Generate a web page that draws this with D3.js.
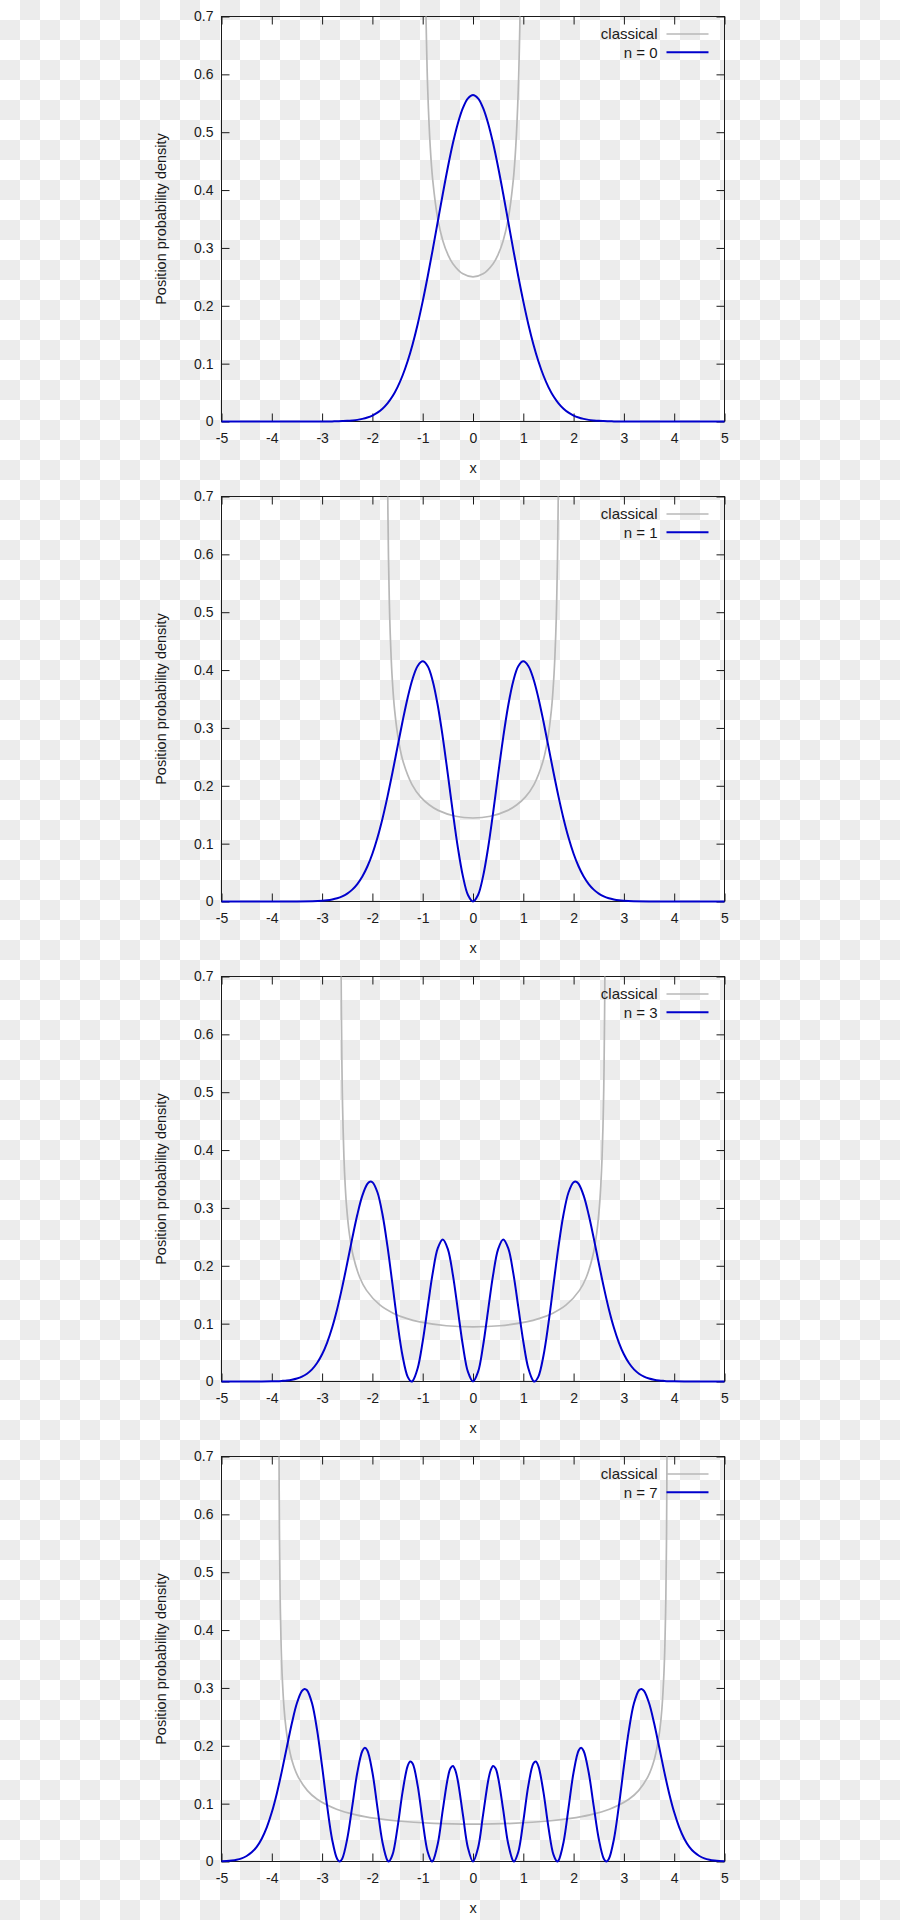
<!DOCTYPE html>
<html><head><meta charset="utf-8">
<script src="https://cdn.jsdelivr.net/npm/d3@7"></script>
<style>
body{margin:0;background:#fff;}
svg{display:block;}
text{font-family:"Liberation Sans",Arial,sans-serif;}
</style>
</head><body>
<svg id="chart" width="900" height="1920"></svg>
<script>
// ---------- tick labels ----------
const xTicks = [-5,-4,-3,-2,-1,0,1,2,3,4,5];
const xTickLabels = ["-5","-4","-3","-2","-1","0","1","2","3","4","5"];
const yTicks = [0,0.1,0.2,0.3,0.4,0.5,0.6,0.7];
const yTickLabels = ["0","0.1","0.2","0.3","0.4","0.5","0.6","0.7"];
const xTitle = "x";
const yTitle = "Position probability density";
const classicalLabel = "classical";
const legendLabels = ["n = 0","n = 1","n = 3","n = 7"];

// ---------- quantum densities ----------
const qx01 = [-5,-4,-3.5,-3,-2.9,-2.8,-2.7,-2.6,-2.5,-2.4,-2.3,-2.2,-2.1,-2,-1.9,-1.8,-1.7,-1.6,-1.5,-1.4,-1.3,-1.2,-1.1,-1,-0.9,-0.8,-0.7,-0.6,-0.5,-0.4,-0.3,-0.2,-0.1,0,0.1,0.2,0.3,0.4,0.5,0.6,0.7,0.8,0.9,1,1.1,1.2,1.3,1.4,1.5,1.6,1.7,1.8,1.9,2,2.1,2.2,2.3,2.4,2.5,2.6,2.7,2.8,2.9,3,3.5,4,5];
const q0 = [0,0,0,0.0001,0.0001,0.0002,0.0004,0.0007,0.0011,0.0018,0.0028,0.0045,0.0069,0.0103,0.0153,0.0221,0.0314,0.0436,0.0595,0.0795,0.1041,0.1337,0.1682,0.2076,0.2510,0.2975,0.3456,0.3936,0.4394,0.4808,0.5156,0.5421,0.5586,0.5642,0.5586,0.5421,0.5156,0.4808,0.4394,0.3936,0.3456,0.2975,0.2510,0.2076,0.1682,0.1337,0.1041,0.0795,0.0595,0.0436,0.0314,0.0221,0.0153,0.0103,0.0069,0.0045,0.0028,0.0018,0.0011,0.0007,0.0004,0.0002,0.0001,0.0001,0,0,0];
const q1 = [0,0,0.0001,0.0013,0.0021,0.0035,0.0056,0.0088,0.0136,0.0205,0.0301,0.0432,0.0605,0.0826,0.1102,0.1432,0.1813,0.2233,0.2676,0.3115,0.3519,0.3850,0.4071,0.4151,0.4066,0.3808,0.3387,0.2834,0.2197,0.1538,0.0928,0.0434,0.0112,0,0.0112,0.0434,0.0928,0.1538,0.2197,0.2834,0.3387,0.3808,0.4066,0.4151,0.4071,0.3850,0.3519,0.3115,0.2676,0.2233,0.1813,0.1432,0.1102,0.0826,0.0605,0.0432,0.0301,0.0205,0.0136,0.0088,0.0056,0.0035,0.0021,0.0013,0.0001,0,0];

const qx3 = [-5,-4.5,-4.2,-4,-3.9,-3.8,-3.7,-3.6,-3.5,-3.4,-3.3,-3.2,-3.1,-3,-2.9,-2.8,-2.7,-2.6,-2.5,-2.4,-2.3,-2.2,-2.1,-2.05,-2,-1.9,-1.8,-1.7,-1.6,-1.5,-1.4,-1.3,-1.2247,-1.2,-1.1,-1,-0.9,-0.8,-0.7,-0.6,-0.5,-0.4,-0.3,-0.2,-0.1,0,0.1,0.2,0.3,0.4,0.5,0.6,0.7,0.8,0.9,1,1.1,1.2,1.2247,1.3,1.4,1.5,1.6,1.7,1.8,1.9,2,2.05,2.1,2.2,2.3,2.4,2.5,2.6,2.7,2.8,2.9,3,3.1,3.2,3.3,3.4,3.5,3.6,3.7,3.8,3.9,4,4.2,4.5,5];
const q3 = [0,0,0.0001,0.0003,0.0005,0.0010,0.0017,0.0030,0.0051,0.0084,0.0135,0.0210,0.0319,0.0470,0.0673,0.0933,0.1254,0.1631,0.2048,0.2478,0.2882,0.3212,0.3415,0.3454,0.3445,0.3271,0.2890,0.2335,0.1673,0.1003,0.0440,0.0085,0,0.0009,0.0228,0.0692,0.1291,0.1878,0.2304,0.2455,0.2289,0.1842,0.1230,0.0616,0.0165,0,0.0165,0.0616,0.1230,0.1842,0.2289,0.2455,0.2304,0.1878,0.1291,0.0692,0.0228,0.0009,0,0.0085,0.0440,0.1003,0.1673,0.2335,0.2890,0.3271,0.3445,0.3454,0.3415,0.3212,0.2882,0.2478,0.2048,0.1631,0.1254,0.0933,0.0673,0.0470,0.0319,0.0210,0.0135,0.0084,0.0051,0.0030,0.0017,0.0010,0.0005,0.0003,0.0001,0,0];

const qx7 = [-5,-4.9,-4.8,-4.7,-4.6,-4.5,-4.4,-4.3,-4.2,-4.1,-4,-3.9,-3.8,-3.7,-3.6,-3.5,-3.4,-3.35,-3.3,-3.2,-3.1,-3,-2.9,-2.8,-2.7,-2.652,-2.6,-2.5,-2.4,-2.3,-2.2,-2.15,-2.1,-2,-1.9,-1.8,-1.7,-1.6736,-1.6,-1.5,-1.4,-1.3,-1.25,-1.2,-1.1,-1,-0.9,-0.8163,-0.8,-0.7,-0.6,-0.5,-0.45,-0.4,-0.35,-0.3,-0.2,-0.1,0,0.1,0.2,0.3,0.35,0.4,0.45,0.5,0.6,0.7,0.8,0.8163,0.9,1,1.1,1.2,1.25,1.3,1.4,1.5,1.6,1.6736,1.7,1.8,1.9,2,2.1,2.15,2.2,2.3,2.4,2.5,2.6,2.652,2.7,2.8,2.9,3,3.1,3.2,3.3,3.35,3.4,3.5,3.6,3.7,3.8,3.9,4,4.1,4.2,4.3,4.4,4.5,4.6,4.7,4.8,4.9,5];
const q7 = [0.0005,0.0009,0.0017,0.0031,0.0055,0.0095,0.0158,0.0254,0.0394,0.0590,0.0850,0.1177,0.1562,0.1982,0.2394,0.2739,0.2949,0.2983,0.2960,0.2734,0.2274,0.1644,0.0960,0.0377,0.0042,0,0.0049,0.0393,0.0957,0.1538,0.1910,0.1965,0.1918,0.1543,0.0930,0.0334,0.0016,0,0.0118,0.0591,0.1204,0.1649,0.1729,0.1695,0.1311,0.0693,0.0164,0,0.0006,0.0306,0.0896,0.1448,0.1606,0.1650,0.1573,0.1387,0.0805,0.0235,0,0.0235,0.0805,0.1387,0.1573,0.1650,0.1606,0.1448,0.0896,0.0306,0.0006,0,0.0164,0.0693,0.1311,0.1695,0.1729,0.1649,0.1204,0.0591,0.0118,0,0.0016,0.0334,0.0930,0.1543,0.1918,0.1965,0.1910,0.1538,0.0957,0.0393,0.0049,0,0.0042,0.0377,0.0960,0.1644,0.2274,0.2734,0.2960,0.2983,0.2949,0.2739,0.2394,0.1982,0.1562,0.1177,0.0850,0.0590,0.0394,0.0254,0.0158,0.0095,0.0055,0.0031,0.0017,0.0009,0.0005];

// ---------- classical densities ----------
const cx0 = [-0.97,-0.96,-0.95,-0.93,-0.9,-0.85,-0.8,-0.7,-0.6,-0.5,-0.4,-0.2,0,0.2,0.4,0.5,0.6,0.7,0.8,0.85,0.9,0.93,0.95,0.96,0.97];
const c0 = [1.0284,0.8929,0.8006,0.6802,0.5735,0.4746,0.4167,0.3501,0.3125,0.2887,0.2728,0.2552,0.25,0.2552,0.2728,0.2887,0.3125,0.3501,0.4167,0.4746,0.5735,0.6802,0.8006,0.8929,1.0284];
const cx1 = [-1.7147,-1.7061,-1.6974,-1.6801,-1.6628,-1.6454,-1.6108,-1.5588,-1.4722,-1.3856,-1.2124,-1.0392,-0.8660,-0.6928,-0.3464,0,0.3464,0.6928,0.8660,1.0392,1.2124,1.3856,1.4722,1.5588,1.6108,1.6454,1.6628,1.6801,1.6974,1.7061,1.7147];
const c1 = [1.0232,0.8365,0.7253,0.5937,0.5155,0.4623,0.3927,0.3311,0.2740,0.2406,0.2021,0.1804,0.1667,0.1575,0.1473,0.1443,0.1473,0.1575,0.1667,0.1804,0.2021,0.2406,0.2740,0.3311,0.3927,0.4623,0.5155,0.5937,0.7253,0.8365,1.0232];
const cx3 = [-2.6378,-2.6325,-2.6272,-2.6193,-2.6061,-2.5928,-2.5664,-2.5399,-2.5135,-2.4606,-2.3812,-2.2489,-2.1166,-1.8520,-1.5875,-1.3229,-1.0583,-0.5292,0,0.5292,1.0583,1.3229,1.5875,1.8520,2.1166,2.2489,2.3812,2.4606,2.5135,2.5399,2.5664,2.5928,2.6061,2.6193,2.6272,2.6325,2.6378];
const c3 = [1.2208,0.9461,0.8000,0.6698,0.5476,0.4748,0.3887,0.3375,0.3026,0.2571,0.2168,0.1794,0.1575,0.1323,0.1181,0.1091,0.1031,0.0964,0.0945,0.0964,0.1031,0.1091,0.1181,0.1323,0.1575,0.1794,0.2168,0.2571,0.3026,0.3375,0.3887,0.4748,0.5476,0.6698,0.8000,0.9461,1.2208];
const cx7 = [-3.8652,-3.8614,-3.8536,-3.8459,-3.8343,-3.8149,-3.7955,-3.7568,-3.7181,-3.6793,-3.6019,-3.4857,-3.2920,-3.0984,-2.7111,-2.3238,-1.9365,-1.5492,-0.7746,0,0.7746,1.5492,1.9365,2.3238,2.7111,3.0984,3.2920,3.4857,3.6019,3.6793,3.7181,3.7568,3.7955,3.8149,3.8343,3.8459,3.8536,3.8614,3.8652];
const c7 = [1.0211,0.8340,0.6463,0.5465,0.4576,0.3741,0.3244,0.2655,0.2305,0.2067,0.1756,0.1481,0.1225,0.1076,0.0904,0.0807,0.0745,0.0704,0.0659,0.0646,0.0659,0.0704,0.0745,0.0807,0.0904,0.1076,0.1225,0.1481,0.1756,0.2067,0.2305,0.2655,0.3244,0.3741,0.4576,0.5465,0.6463,0.8340,1.0211];

// ---------- build panels ----------
const panels = [
  {label: legendLabels[0], qx: qx01, qy: q0, cx: cx0, cy: c0},
  {label: legendLabels[1], qx: qx01, qy: q1, cx: cx1, cy: c1},
  {label: legendLabels[2], qx: qx3,  qy: q3, cx: cx3, cy: c3},
  {label: legendLabels[3], qx: qx7,  qy: q7, cx: cx7, cy: c7}
];

const svg = d3.select("#chart");
const defs = svg.append("defs");
const pat = defs.append("pattern").attr("id","checker").attr("width",40).attr("height",40)
  .attr("patternUnits","userSpaceOnUse");
pat.append("rect").attr("width",40).attr("height",40).attr("fill","#ffffff");
pat.append("rect").attr("x",20).attr("y",0).attr("width",20).attr("height",20).attr("fill","#ececec");
pat.append("rect").attr("x",0).attr("y",20).attr("width",20).attr("height",20).attr("fill","#ececec");
svg.append("rect").attr("width",900).attr("height",1920).attr("fill","url(#checker)");

const left = 221.5, right = 724.5, top0 = 16.5, plotH = 405, step = 480;
const blue = "#0000cc", grey = "#b8b8b8", ink = "#1a1a1a";
const fsTick = 14, fsTitle = 14.5, fsLegend = 15;

panels.forEach((p, i) => {
  const top = top0 + i*step, bottom = top + plotH;
  const x = d3.scaleLinear().domain([-5,5]).range([left,right]);
  const y = d3.scaleLinear().domain([0,0.7]).range([bottom,top]);
  const g = svg.append("g");

  defs.append("clipPath").attr("id","clipC"+i).append("rect")
    .attr("x",left).attr("y",top).attr("width",right-left).attr("height",plotH);
  defs.append("clipPath").attr("id","clipQ"+i).append("rect")
    .attr("x",left-2).attr("y",top).attr("width",right-left+4).attr("height",plotH+3);

  // axes (ticks inward)
  const ax = d3.axisBottom(x).tickValues(xTicks).tickFormat((d,k)=>xTickLabels[k])
    .tickSizeInner(-8).tickSizeOuter(0).tickPadding(12);
  const axT = d3.axisTop(x).tickValues(xTicks).tickFormat("").tickSizeInner(-8).tickSizeOuter(0);
  const ay = d3.axisLeft(y).tickValues(yTicks).tickFormat((d,k)=>yTickLabels[k])
    .tickSizeInner(-8).tickSizeOuter(0).tickPadding(8);
  const ayR = d3.axisRight(y).tickValues(yTicks).tickFormat("").tickSizeInner(-8).tickSizeOuter(0);

  const gb = g.append("g").attr("transform",`translate(0,${bottom})`).call(ax);
  const gt = g.append("g").attr("transform",`translate(0,${top})`).call(axT);
  const gl = g.append("g").attr("transform",`translate(${left},0)`).call(ay);
  const gr = g.append("g").attr("transform",`translate(${right},0)`).call(ayR);
  [gb,gt,gl,gr].forEach(a => {
    a.select(".domain").remove();
    a.selectAll(".tick line").attr("stroke",ink).attr("stroke-width",1);
    a.selectAll("text").attr("fill",ink).attr("font-size",fsTick)
      .attr("font-family","'Liberation Sans',Arial,sans-serif");
  });

  g.append("rect").attr("x",left).attr("y",top).attr("width",right-left).attr("height",plotH)
    .attr("fill","none").attr("stroke",ink).attr("stroke-width",1);

  // titles
  g.append("text").attr("x",(left+right)/2).attr("y",bottom+51).attr("text-anchor","middle")
    .attr("font-size",fsTitle).attr("fill",ink).text(xTitle);
  g.append("text").attr("transform",`translate(166,${(top+bottom)/2}) rotate(-90)`)
    .attr("text-anchor","middle").attr("font-size",fsTitle).attr("fill",ink).text(yTitle);

  const line = d3.line().x(d=>x(d[0])).y(d=>y(d[1])).curve(d3.curveCatmullRom.alpha(0.5));

  g.append("path").attr("clip-path",`url(#clipC${i})`)
    .attr("d", line(p.cx.map((v,k)=>[v,p.cy[k]])))
    .attr("fill","none").attr("stroke",grey).attr("stroke-width",1.7);
  g.append("path").attr("clip-path",`url(#clipQ${i})`)
    .attr("d", line(p.qx.map((v,k)=>[v,p.qy[k]])))
    .attr("fill","none").attr("stroke",blue).attr("stroke-width",2);

  // legend
  const lg = g.append("g");
  const rows = [{t: classicalLabel, c: grey, w: 1.7}, {t: p.label, c: blue, w: 2}];
  rows.forEach((r, k) => {
    const yy = top + 17.5 + k*18.3;
    lg.append("text").attr("x",657.5).attr("y",yy).attr("dy","0.35em")
      .attr("text-anchor","end").attr("font-size",fsLegend).attr("fill",ink).text(r.t);
    lg.append("line").attr("x1",666.5).attr("x2",708.5).attr("y1",yy).attr("y2",yy)
      .attr("stroke",r.c).attr("stroke-width",r.w);
  });
});
</script>
</body></html>
